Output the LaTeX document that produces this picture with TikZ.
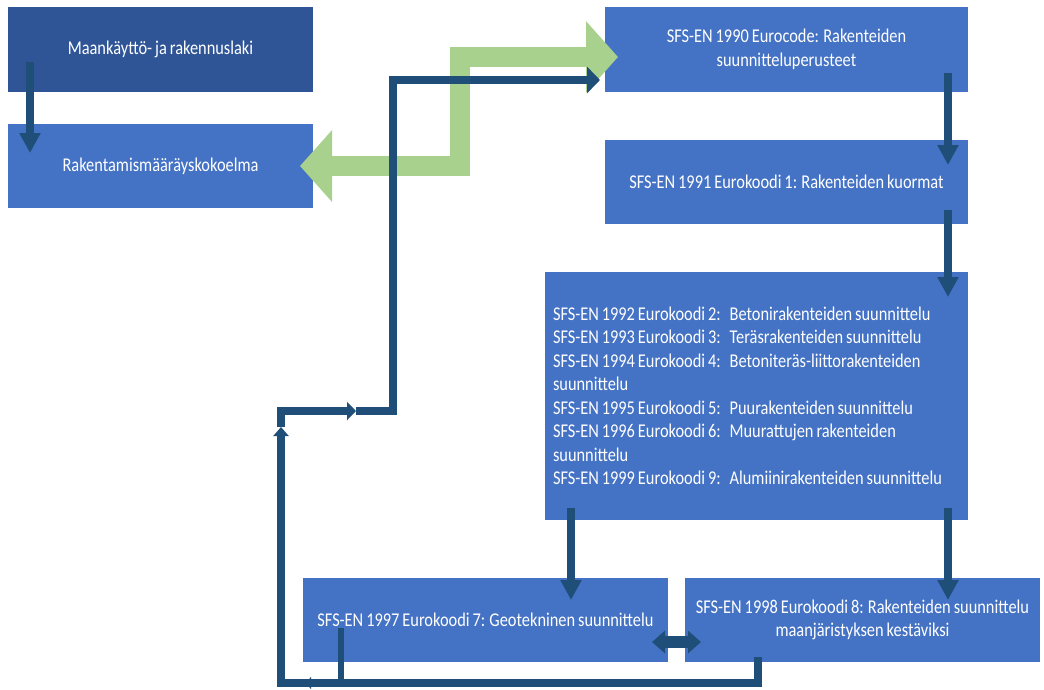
\documentclass[tikz,border=0pt]{standalone}
\usepackage{fontspec}
\setmainfont[FakeStretch=0.84, WordSpace=0.8]{Carlito}
\usetikzlibrary{arrows.meta,calc}
\definecolor{boxblue}{HTML}{4472C4}
\definecolor{darkbox}{HTML}{2F5597}
\definecolor{arrblue}{HTML}{1F4E79}
\definecolor{arrgreen}{HTML}{A9D18E}
\tikzset{
  box/.style={fill=boxblue, draw=none, text=white, inner sep=0pt, outer sep=0pt,
    anchor=north west, font=\fontsize{19.5}{23.5}\selectfont, align=center},
  darr/.style={draw=arrblue, line width=7.5pt, -{Triangle[width=20pt,length=20pt]}},
  loopline/.style={draw=arrblue, line width=8pt},
  garr/.style={draw=arrgreen, line width=20pt,
    {Triangle[width=70pt,length=32pt]}-{Triangle[width=70pt,length=32pt]}},
}
\begin{document}
\begin{tikzpicture}[x=1pt,y=-1pt]
\useasboundingbox (0,0) rectangle (1044,689);
% boxes
\node[box, fill=darkbox, minimum width=305pt, minimum height=85pt] (A) at (8,7) {Maankäyttö- ja rakennuslaki};
\node[box, minimum width=305pt, minimum height=84pt] (B) at (8,124) {Rakentamismääräyskokoelma};
\node[box, minimum width=363pt, minimum height=85pt] (C) at (605,7) {SFS-EN 1990 Eurocode: Rakenteiden\\suunnitteluperusteet};
\node[box, minimum width=363pt, minimum height=84pt] (D) at (605,140) {SFS-EN 1991 Eurokoodi 1: Rakenteiden kuormat};
\node[box, minimum width=423pt, minimum height=248pt, text width=407pt, inner xsep=8pt, align=flush left] (E) at (545,272) {\spaceskip=0pt\xspaceskip=0pt
SFS-EN 1992 Eurokoodi 2:\hspace{0.45em}Betonirakenteiden suunnittelu\\
SFS-EN 1993 Eurokoodi 3:\hspace{0.45em}Teräsrakenteiden suunnittelu\\
SFS-EN 1994 Eurokoodi 4:\hspace{0.45em}Betoniteräs-liittorakenteiden\\
suunnittelu\\
SFS-EN 1995 Eurokoodi 5:\hspace{0.45em}Puurakenteiden suunnittelu\\
SFS-EN 1996 Eurokoodi 6:\hspace{0.45em}Muurattujen rakenteiden\\
suunnittelu\\
SFS-EN 1999 Eurokoodi 9:\hspace{0.45em}Alumiinirakenteiden suunnittelu};
\node[box, minimum width=365pt, minimum height=84pt] (F) at (303,578) {SFS-EN 1997 Eurokoodi 7: Geotekninen suunnittelu};
\node[box, minimum width=355pt, minimum height=84pt] (G) at (685,578) {SFS-EN 1998 Eurokoodi 8: Rakenteiden suunnittelu\\maanjäristyksen kestäviksi};

% green double arrow
\coordinate (g1) at (460,166);
\coordinate (g2) at (460,57);
\draw[garr] ([xshift=-13pt]B.east) -- (g1) -- (g2) -- ([xshift=13pt,yshift=-7.5pt]C.west);

% straight arrows
\draw[darr] ([xshift=22pt,yshift=30pt]A.south west) -- ([xshift=22pt,yshift=-29pt]B.north west);
\draw[darr] ([xshift=-20pt,yshift=19pt]C.south east) -- ([xshift=-20pt,yshift=-25pt]D.north east);
\draw[darr] ([xshift=-20pt,yshift=14pt]D.south east) -- ([xshift=-20pt,yshift=-25pt]E.north east);
\draw[darr] ([xshift=26pt,yshift=12pt]E.south west) -- ([xshift=268pt,yshift=-22pt]F.north west);
\draw[darr] ([xshift=-20pt,yshift=12pt]E.south east) -- ([xshift=263pt,yshift=-22pt]G.north west);

% double arrow between F and G
\draw[draw=arrblue, line width=12pt, {Triangle[width=22pt,length=13pt]}-{Triangle[width=22pt,length=13pt]}]
  ([xshift=-16pt,yshift=-22pt]F.east) -- ([xshift=16pt,yshift=-22pt]G.west);

% feedback loop
\coordinate (l1) at (758,683);
\coordinate (l2) at (281,683);
\coordinate (m1) at (281,427);
\coordinate (l3) at (281,411);
\coordinate (m2) at (356,411);
\coordinate (l4) at (393,411);
\coordinate (l5) at (393,80);
\coordinate (fb) at (341,683);
\coordinate (tb) at (306,683);
\draw[loopline, -{Triangle[width=15pt,length=9pt]}] ([xshift=73pt,yshift=5pt]G.south west) -- (l1) -- (l2) -- (m1);
\draw[loopline, -{Triangle[width=18pt,length=9pt]}] (m1) -- (l3) -- (m2);
\draw[loopline, -{Triangle[width=26pt,length=13pt]}] (m2) -- (l4) -- (l5) -- ([xshift=-5pt,yshift=-30.5pt]C.west);
\draw[draw=arrblue, line width=6pt, -{Triangle[width=11pt,length=5pt]}] ([xshift=38pt,yshift=34pt]F.south west) -- ([yshift=-3pt]fb);
\draw[draw=arrblue, line width=8pt, -{Triangle[width=12pt,length=5pt]}] (fb) -- (tb);
\end{tikzpicture}
\end{document}
